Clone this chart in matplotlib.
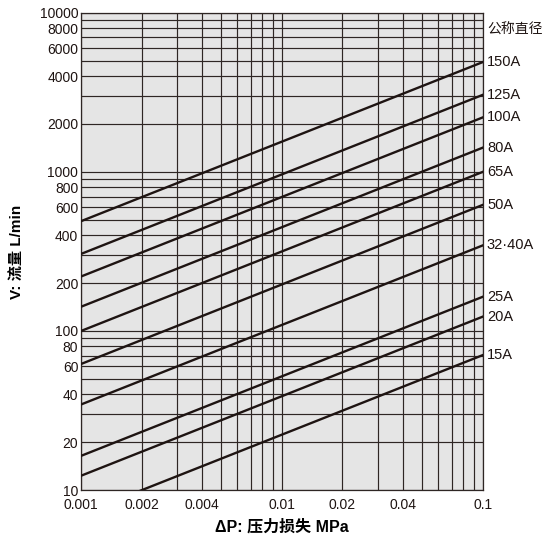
import matplotlib
matplotlib.use("Agg")
import matplotlib.pyplot as plt
from matplotlib.ticker import FixedLocator, NullFormatter

plt.rcParams['font.family'] = ['Liberation Sans', 'Noto Sans CJK SC', 'DejaVu Sans']

# nominal sizes and flow at both ends of the chart (dP = 0.001 and 0.1 MPa)
sizes = ["150A", "125A", "100A", "80A", "65A", "50A", "32·40A", "25A", "20A", "15A"]
dp_ends = [0.001, 0.1]
flow_left = [490, 305, 220, 142, 100, 62, 34.5, 16.4, 12.3, 7.05]
flow_right = [4900, 3050, 2200, 1420, 1000, 620, 345, 164, 123, 70.5]

x_ticks = [0.001, 0.002, 0.004, 0.01, 0.02, 0.04, 0.1]
x_labels = ["0.001", "0.002", "0.004", "0.01", "0.02", "0.04", "0.1"]
y_ticks = [10, 20, 40, 60, 80, 100, 200, 400, 600, 800, 1000, 2000, 4000, 6000, 8000, 10000]
y_labels = [str(v) for v in y_ticks]

fig = plt.figure(figsize=(5.48, 5.38), dpi=100)
ax = fig.add_axes([0.148, 0.0892, 0.733, 0.887])
ax.set_facecolor('#e5e5e5')
ax.set_xscale('log')
ax.set_yscale('log')
ax.set_xlim(0.001, 0.1)
ax.set_ylim(10, 10000)

# grid on every 1..9 of each decade
xgrid = [m * 10.0 ** e for e in (-3, -2) for m in range(1, 10)] + [0.1]
ygrid = [m * 10 ** e for e in (1, 2, 3) for m in range(1, 10)] + [10000]
for gx in xgrid:
    ax.axvline(gx, color='#2e2624', lw=0.85, zorder=1)
for gy in ygrid:
    ax.axhline(gy, color='#2e2624', lw=0.85, zorder=1)

for name, y0, y1 in zip(sizes, flow_left, flow_right):
    ax.plot(dp_ends, [y0, y1], color='#1e1412', lw=1.7, zorder=3, clip_on=True)
    ax.annotate(name, xy=(0.1, y1), xytext=(3, 0), textcoords='offset points',
                ha='left', va='center', fontsize=10.5,
                color='#1e1412', annotation_clip=False)

ax.annotate("公称直径", xy=(0.1, 7800), xytext=(3, 0), textcoords='offset points',
            ha='left', va='center', fontsize=10, family='Noto Sans CJK SC',
            color='#1e1412', annotation_clip=False)

ax.xaxis.set_major_locator(FixedLocator(x_ticks))
ax.xaxis.set_minor_formatter(NullFormatter())
ax.set_xticklabels(x_labels)
ax.yaxis.set_major_locator(FixedLocator(y_ticks))
ax.yaxis.set_minor_formatter(NullFormatter())
ax.set_yticklabels(y_labels)
ax.tick_params(which='both', length=0, labelsize=10, colors='#1e1412', pad=3)
ax.tick_params(axis='x', pad=6)
ax.tick_params(axis='y', pad=2)

for s in ax.spines.values():
    s.set_color('#2e2624')
    s.set_linewidth(0.9)

ax.set_xlabel("ΔP: 压力损失 MPa", fontsize=11.5, fontweight='bold', labelpad=5)
ax.set_ylabel("V: 流量 L/min", fontsize=11, fontweight='bold', labelpad=11)

fig.savefig("out.png", dpi=100)
